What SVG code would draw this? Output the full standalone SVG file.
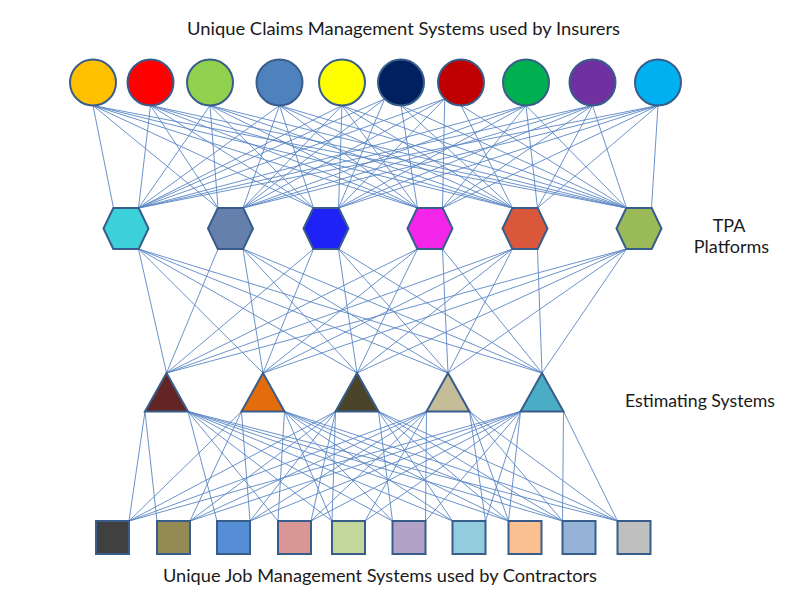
<svg xmlns="http://www.w3.org/2000/svg" width="786" height="596" viewBox="0 0 786 596">
<style>
.c{stroke:#5A87C5;stroke-width:0.9;fill:none}
.n{stroke:#385D8A;stroke-width:2}
.t{font-family:Lato,"Open Sans","Liberation Sans",sans-serif;font-size:18px;fill:#1a1a1a}
</style>
<rect width="786" height="596" fill="#fff"/>
<g id="connectors" class="c">
<!-- circles to hexagons -->
<line x1="93" y1="105.5" x2="113.5" y2="208"/><line x1="93" y1="105.5" x2="218" y2="208"/><line x1="93" y1="105.5" x2="313.5" y2="208"/><line x1="93" y1="105.5" x2="417.5" y2="208"/><line x1="93" y1="105.5" x2="512.5" y2="208"/><line x1="93" y1="105.5" x2="626.5" y2="208"/>
<line x1="150.5" y1="105.5" x2="138.5" y2="208"/><line x1="150.5" y1="105.5" x2="218" y2="208"/><line x1="150.5" y1="105.5" x2="313.5" y2="208"/><line x1="150.5" y1="105.5" x2="417.5" y2="208"/><line x1="150.5" y1="105.5" x2="512.5" y2="208"/><line x1="150.5" y1="105.5" x2="626.5" y2="208"/>
<line x1="210" y1="105.5" x2="138.5" y2="208"/><line x1="210" y1="105.5" x2="218" y2="208"/><line x1="210" y1="105.5" x2="313.5" y2="208"/><line x1="210" y1="105.5" x2="417.5" y2="208"/><line x1="210" y1="105.5" x2="512.5" y2="208"/><line x1="210" y1="105.5" x2="626.5" y2="208"/>
<line x1="279.5" y1="105.5" x2="138.5" y2="208"/><line x1="279.5" y1="105.5" x2="243" y2="208"/><line x1="279.5" y1="105.5" x2="313.5" y2="208"/><line x1="279.5" y1="105.5" x2="417.5" y2="208"/><line x1="279.5" y1="105.5" x2="512.5" y2="208"/><line x1="279.5" y1="105.5" x2="626.5" y2="208"/>
<line x1="342" y1="105.5" x2="138.5" y2="208"/><line x1="342" y1="105.5" x2="243" y2="208"/><line x1="342" y1="105.5" x2="338.5" y2="208"/><line x1="342" y1="105.5" x2="417.5" y2="208"/><line x1="342" y1="105.5" x2="512.5" y2="208"/><line x1="342" y1="105.5" x2="626.5" y2="208"/>
<line x1="384.7" y1="98.8" x2="138.5" y2="208"/><line x1="384.7" y1="98.8" x2="243" y2="208"/><line x1="384.7" y1="98.8" x2="338.5" y2="208"/><line x1="401" y1="105.5" x2="417.5" y2="208"/><line x1="401" y1="105.5" x2="512.5" y2="208"/><line x1="401" y1="105.5" x2="626.5" y2="208"/>
<line x1="444.7" y1="98.8" x2="138.5" y2="208"/><line x1="444.7" y1="98.8" x2="243" y2="208"/><line x1="444.7" y1="98.8" x2="338.5" y2="208"/><line x1="444.7" y1="98.8" x2="442.5" y2="208"/><line x1="461" y1="105.5" x2="512.5" y2="208"/><line x1="461" y1="105.5" x2="626.5" y2="208"/>
<line x1="526" y1="105.5" x2="138.5" y2="208"/><line x1="526" y1="105.5" x2="243" y2="208"/><line x1="526" y1="105.5" x2="338.5" y2="208"/><line x1="526" y1="105.5" x2="442.5" y2="208"/><line x1="526" y1="105.5" x2="537.5" y2="208"/><line x1="526" y1="105.5" x2="626.5" y2="208"/>
<line x1="592.5" y1="105.5" x2="138.5" y2="208"/><line x1="592.5" y1="105.5" x2="243" y2="208"/><line x1="592.5" y1="105.5" x2="338.5" y2="208"/><line x1="592.5" y1="105.5" x2="442.5" y2="208"/><line x1="592.5" y1="105.5" x2="537.5" y2="208"/><line x1="592.5" y1="105.5" x2="626.5" y2="208"/>
<line x1="658" y1="105.5" x2="138.5" y2="208"/><line x1="658" y1="105.5" x2="243" y2="208"/><line x1="658" y1="105.5" x2="338.5" y2="208"/><line x1="658" y1="105.5" x2="442.5" y2="208"/><line x1="658" y1="105.5" x2="537.5" y2="208"/><line x1="658" y1="105.5" x2="651.5" y2="208"/>
<!-- hexagons to triangles -->
<line x1="138.5" y1="249" x2="166.5" y2="373"/><line x1="138.5" y1="249" x2="263" y2="373"/><line x1="138.5" y1="249" x2="357" y2="373"/><line x1="138.5" y1="249" x2="448" y2="373"/><line x1="138.5" y1="249" x2="542" y2="373"/>
<line x1="218" y1="249" x2="166.5" y2="373"/><line x1="243" y1="249" x2="263" y2="373"/><line x1="243" y1="249" x2="357" y2="373"/><line x1="243" y1="249" x2="448" y2="373"/><line x1="243" y1="249" x2="542" y2="373"/>
<line x1="313.5" y1="249" x2="166.5" y2="373"/><line x1="313.5" y1="249" x2="263" y2="373"/><line x1="338.5" y1="249" x2="357" y2="373"/><line x1="338.5" y1="249" x2="448" y2="373"/><line x1="338.5" y1="249" x2="542" y2="373"/>
<line x1="417.5" y1="249" x2="166.5" y2="373"/><line x1="417.5" y1="249" x2="263" y2="373"/><line x1="417.5" y1="249" x2="357" y2="373"/><line x1="442.5" y1="249" x2="448" y2="373"/><line x1="442.5" y1="249" x2="542" y2="373"/>
<line x1="512.5" y1="249" x2="166.5" y2="373"/><line x1="512.5" y1="249" x2="263" y2="373"/><line x1="512.5" y1="249" x2="357" y2="373"/><line x1="512.5" y1="249" x2="448" y2="373"/><line x1="537.5" y1="249" x2="542" y2="373"/>
<line x1="626.5" y1="249" x2="166.5" y2="373"/><line x1="626.5" y1="249" x2="263" y2="373"/><line x1="626.5" y1="249" x2="357" y2="373"/><line x1="626.5" y1="249" x2="448" y2="373"/><line x1="626.5" y1="249" x2="542" y2="373"/>
<!-- triangles to squares -->
<line x1="145" y1="411.5" x2="129" y2="521"/><line x1="145" y1="411.5" x2="157" y2="521"/><line x1="188" y1="411.5" x2="217" y2="521"/><line x1="188" y1="411.5" x2="278" y2="521"/><line x1="188" y1="411.5" x2="332" y2="521"/><line x1="188" y1="411.5" x2="392.5" y2="521"/><line x1="188" y1="411.5" x2="452.5" y2="521"/><line x1="188" y1="411.5" x2="508.5" y2="521"/><line x1="188" y1="411.5" x2="562.5" y2="521"/><line x1="188" y1="411.5" x2="617.5" y2="521"/>
<line x1="241.5" y1="411.5" x2="129" y2="521"/><line x1="241.5" y1="411.5" x2="190" y2="521"/><line x1="241.5" y1="411.5" x2="250" y2="521"/><line x1="284.5" y1="411.5" x2="278" y2="521"/><line x1="284.5" y1="411.5" x2="332" y2="521"/><line x1="284.5" y1="411.5" x2="392.5" y2="521"/><line x1="284.5" y1="411.5" x2="452.5" y2="521"/><line x1="284.5" y1="411.5" x2="508.5" y2="521"/><line x1="284.5" y1="411.5" x2="562.5" y2="521"/><line x1="284.5" y1="411.5" x2="617.5" y2="521"/>
<line x1="335.5" y1="411.5" x2="129" y2="521"/><line x1="335.5" y1="411.5" x2="190" y2="521"/><line x1="335.5" y1="411.5" x2="250" y2="521"/><line x1="335.5" y1="411.5" x2="311" y2="521"/><line x1="335.5" y1="411.5" x2="332" y2="521"/><line x1="378.5" y1="411.5" x2="392.5" y2="521"/><line x1="378.5" y1="411.5" x2="452.5" y2="521"/><line x1="378.5" y1="411.5" x2="508.5" y2="521"/><line x1="378.5" y1="411.5" x2="562.5" y2="521"/><line x1="378.5" y1="411.5" x2="617.5" y2="521"/>
<line x1="426.5" y1="411.5" x2="129" y2="521"/><line x1="426.5" y1="411.5" x2="190" y2="521"/><line x1="426.5" y1="411.5" x2="250" y2="521"/><line x1="426.5" y1="411.5" x2="311" y2="521"/><line x1="426.5" y1="411.5" x2="365" y2="521"/><line x1="426.5" y1="411.5" x2="425.5" y2="521"/><line x1="469.5" y1="411.5" x2="485.5" y2="521"/><line x1="469.5" y1="411.5" x2="508.5" y2="521"/><line x1="469.5" y1="411.5" x2="562.5" y2="521"/><line x1="469.5" y1="411.5" x2="617.5" y2="521"/>
<line x1="520.5" y1="411.5" x2="129" y2="521"/><line x1="520.5" y1="411.5" x2="190" y2="521"/><line x1="520.5" y1="411.5" x2="250" y2="521"/><line x1="520.5" y1="411.5" x2="311" y2="521"/><line x1="520.5" y1="411.5" x2="365" y2="521"/><line x1="520.5" y1="411.5" x2="425.5" y2="521"/><line x1="520.5" y1="411.5" x2="485.5" y2="521"/><line x1="520.5" y1="411.5" x2="508.5" y2="521"/><line x1="563.5" y1="411.5" x2="562.5" y2="521"/><line x1="563.5" y1="411.5" x2="617.5" y2="521"/>
</g>
<g id="insurers">
<g id="ins1"><circle class="n" cx="93" cy="82.5" r="23" fill="#FFC000"/></g>
<g id="ins2"><circle class="n" cx="150.5" cy="82.5" r="23" fill="#FF0000"/></g>
<g id="ins3"><circle class="n" cx="210" cy="82.5" r="23" fill="#92D050"/></g>
<g id="ins4"><circle class="n" cx="279.5" cy="82.5" r="23" fill="#4F81BD"/></g>
<g id="ins5"><circle class="n" cx="342" cy="82.5" r="23" fill="#FFFF00"/></g>
<g id="ins6"><circle class="n" cx="401" cy="82.5" r="23" fill="#002060"/></g>
<g id="ins7"><circle class="n" cx="461" cy="82.5" r="23" fill="#C00000"/></g>
<g id="ins8"><circle class="n" cx="526" cy="82.5" r="23" fill="#00B050"/></g>
<g id="ins9"><circle class="n" cx="592.5" cy="82.5" r="23" fill="#7030A0"/></g>
<g id="ins10"><circle class="n" cx="658" cy="82.5" r="23" fill="#00B0F0"/></g>
</g>
<g id="tpa">
<g id="tpa1"><polygon class="n" transform="translate(126,228.5)" points="-22.5,0 -12.7,-20.5 12.7,-20.5 22.5,0 12.7,20.5 -12.7,20.5" fill="#3CD0D8"/></g>
<g id="tpa2"><polygon class="n" transform="translate(230.5,228.5)" points="-22.5,0 -12.7,-20.5 12.7,-20.5 22.5,0 12.7,20.5 -12.7,20.5" fill="#6680AE"/></g>
<g id="tpa3"><polygon class="n" transform="translate(326,228.5)" points="-22.5,0 -12.7,-20.5 12.7,-20.5 22.5,0 12.7,20.5 -12.7,20.5" fill="#1E22F7"/></g>
<g id="tpa4"><polygon class="n" transform="translate(430,228.5)" points="-22.5,0 -12.7,-20.5 12.7,-20.5 22.5,0 12.7,20.5 -12.7,20.5" fill="#F325E9"/></g>
<g id="tpa5"><polygon class="n" transform="translate(525,228.5)" points="-22.5,0 -12.7,-20.5 12.7,-20.5 22.5,0 12.7,20.5 -12.7,20.5" fill="#D9573B"/></g>
<g id="tpa6"><polygon class="n" transform="translate(639,228.5)" points="-22.5,0 -12.7,-20.5 12.7,-20.5 22.5,0 12.7,20.5 -12.7,20.5" fill="#9BBB59"/></g>
</g>
<g id="estimating">
<g id="est1"><polygon class="n" transform="translate(166.5,392.25)" points="0,-19.25 21.5,19.25 -21.5,19.25" fill="#632523"/></g>
<g id="est2"><polygon class="n" transform="translate(263,392.25)" points="0,-19.25 21.5,19.25 -21.5,19.25" fill="#E46C0A"/></g>
<g id="est3"><polygon class="n" transform="translate(357,392.25)" points="0,-19.25 21.5,19.25 -21.5,19.25" fill="#4A452A"/></g>
<g id="est4"><polygon class="n" transform="translate(448,392.25)" points="0,-19.25 21.5,19.25 -21.5,19.25" fill="#C4BD97"/></g>
<g id="est5"><polygon class="n" transform="translate(542,392.25)" points="0,-19.25 21.5,19.25 -21.5,19.25" fill="#4BACC6"/></g>
</g>
<g id="contractors">
<g id="con1"><rect class="n" x="96" y="521" width="33" height="33" fill="#404040"/></g>
<g id="con2"><rect class="n" x="157" y="521" width="33" height="33" fill="#948A54"/></g>
<g id="con3"><rect class="n" x="217" y="521" width="33" height="33" fill="#558ED5"/></g>
<g id="con4"><rect class="n" x="278" y="521" width="33" height="33" fill="#D99694"/></g>
<g id="con5"><rect class="n" x="332" y="521" width="33" height="33" fill="#C3D69B"/></g>
<g id="con6"><rect class="n" x="392.5" y="521" width="33" height="33" fill="#B3A2C7"/></g>
<g id="con7"><rect class="n" x="452.5" y="521" width="33" height="33" fill="#93CDDD"/></g>
<g id="con8"><rect class="n" x="508.5" y="521" width="33" height="33" fill="#FAC090"/></g>
<g id="con9"><rect class="n" x="562.5" y="521" width="33" height="33" fill="#95B3D7"/></g>
<g id="con10"><rect class="n" x="617.5" y="521" width="33" height="33" fill="#BFBFBF"/></g>
</g>
<g id="labels">
<text class="t" x="187" y="35" textLength="433" lengthAdjust="spacingAndGlyphs">Unique Claims Management Systems used by Insurers</text>
<text class="t" x="729" y="232" text-anchor="middle">TPA</text>
<text class="t" x="731.5" y="252.5" text-anchor="middle">Platforms</text>
<text class="t" x="625" y="406.5" textLength="150" lengthAdjust="spacingAndGlyphs">Estimating Systems</text>
<text class="t" x="163" y="582" textLength="434" lengthAdjust="spacingAndGlyphs">Unique Job Management Systems used by Contractors</text>
</g>
</svg>
